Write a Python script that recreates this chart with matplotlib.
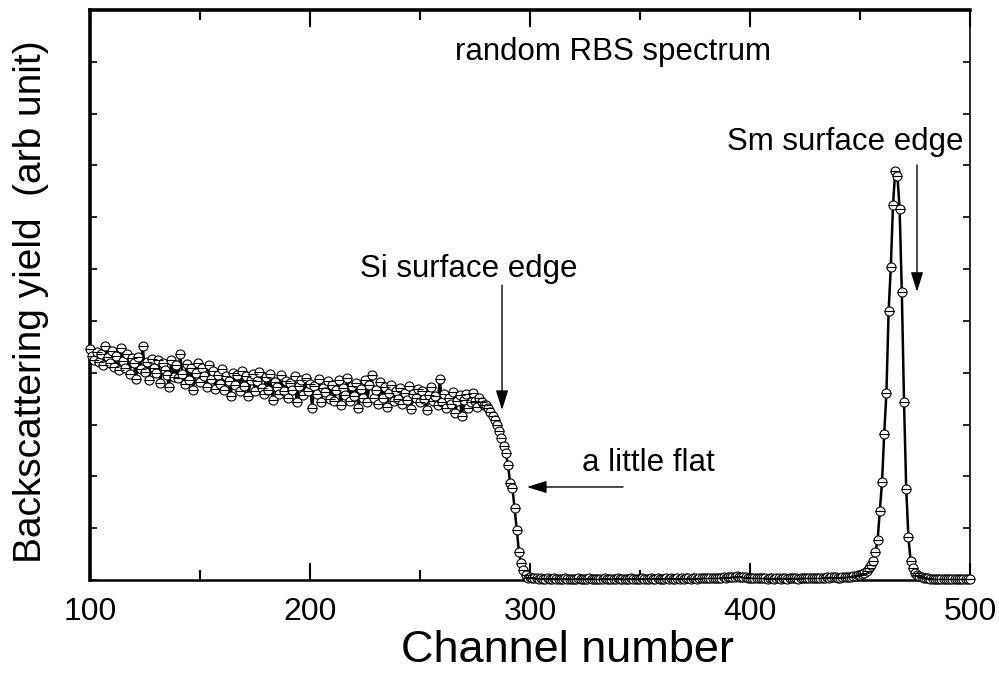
import numpy as np
import matplotlib
matplotlib.use('Agg')
import matplotlib.pyplot as plt
from matplotlib.ticker import MultipleLocator

plt.rcParams['font.family'] = ['Liberation Sans', 'DejaVu Sans']

# Random RBS spectrum, one point per channel (yield in arbitrary units)
channel = np.arange(100, 501)

# ch 100-279: Si substrate plateau (noisy, slowly falling)
plateau = [
    445, 432, 425, 440, 420, 437, 415, 452, 430, 418,
    441, 412, 433, 405, 447, 423, 409, 436, 398, 428,
    419, 388, 430, 408, 452, 402, 421, 385, 427, 410,
    400, 424, 380, 418, 406, 395, 372, 425, 392, 414,
    390, 436, 398, 378, 416, 386, 410, 366, 399, 419,
    382, 409, 393, 372, 415, 388, 404, 368, 396, 378,
    407, 366, 393, 384, 356, 400, 376, 395, 364, 404,
    375, 393, 355, 386, 398, 364, 384, 402, 371, 358,
    392, 366, 397, 348, 382, 372, 358, 396, 365, 384,
    352, 381, 366, 394, 344, 374, 386, 357, 390, 364,
    378, 332, 374, 358, 387, 343, 370, 362, 384, 350,
    376, 346, 367, 385, 337, 371, 357, 390, 346, 374,
    356, 380, 332, 368, 351, 386, 344, 376, 395, 352,
    366, 340, 382, 352, 372, 333, 361, 376, 345, 364,
    350, 371, 340, 361, 347, 375, 330, 358, 352, 369,
    343, 364, 349, 328, 357, 372, 345, 356, 337, 388,
    344, 358, 332, 352, 340, 363, 322, 345, 357, 316,
    348, 358, 332, 343, 360, 346, 333, 352, 343, 338,
]

# ch 280-299: Si surface edge
si_edge = [338, 332, 324, 317, 309, 299, 288, 274, 259, 245,
           222, 187, 178, 139, 97, 54, 33, 19, 10, 4]

# ch 300-439: background between the edges
background = [
    5, 4, 3, 3, 2, 3, 2, 2, 3, 2,
    2, 3, 2, 2, 1, 2, 3, 2, 2, 1,
    2, 2, 3, 2, 1, 2, 2, 3, 2, 2,
    1, 2, 2, 2, 3, 2, 1, 2, 2, 2,
    3, 2, 2, 1, 2, 2, 3, 2, 2, 2,
    2, 3, 2, 2, 2, 3, 2, 2, 3, 2,
    2, 2, 3, 2, 3, 2, 2, 3, 2, 3,
    2, 3, 3, 2, 3, 3, 2, 3, 3, 3,
    3, 3, 4, 3, 4, 4, 3, 4, 5, 4,
    5, 6, 5, 6, 7, 6, 5, 6, 5, 4,
    4, 3, 4, 3, 3, 4, 3, 3, 2, 3,
    3, 2, 3, 3, 2, 3, 3, 2, 3, 3,
    3, 3, 2, 3, 3, 4, 3, 3, 4, 3,
    3, 4, 4, 3, 4, 5, 4, 5, 5, 6,
]

# ch 440-475: Sm peak
sm_peak = [4, 4, 5, 5, 5, 6, 6, 7, 8, 9, 10, 12, 14, 17, 23, 29,
           37, 54, 77, 133, 189, 282, 361, 519, 604, 724,
           789, 780, 716, 556, 344, 176, 83, 37, 23, 14]

# ch 476-500: tail
tail = [10, 7, 5, 4, 3, 3, 2, 2, 2, 2, 2, 1, 2, 1, 1, 2, 1, 1, 1, 1, 1, 1, 1, 1, 1]

counts = np.array(plateau + si_edge + background + sm_peak + tail)

fig = plt.figure(figsize=(9.99, 6.83), dpi=100)
ax = fig.add_axes([0.090, 0.1508, 0.881, 0.8346])

# connecting line, then open circles with a bar through them
ax.plot(channel, counts, color='black', lw=1.8, zorder=2)
ax.plot(channel, counts, 'o', mfc='white', mec='black', ms=6.5, mew=0.8,
        zorder=3, clip_on=False)
ax.plot(channel, counts, '_', color='black', ms=6.5, mew=0.8,
        zorder=4, clip_on=False)

ax.set_xlim(100, 500)
ax.set_ylim(0, 1100)
ax.xaxis.set_major_locator(MultipleLocator(100))
ax.xaxis.set_minor_locator(MultipleLocator(50))
ax.yaxis.set_major_locator(MultipleLocator(100))
ax.tick_params(axis='x', which='major', direction='in', length=12, width=1.5,
               labelsize=23, pad=12, top=True)
ax.tick_params(axis='x', which='minor', direction='in', length=7, width=1.5, top=True)
ax.tick_params(axis='y', which='major', direction='in', length=5, width=1.2,
               right=True, labelleft=False)

ax.spines['left'].set_linewidth(2.6)
ax.spines['top'].set_linewidth(2.6)
ax.spines['bottom'].set_linewidth(1.8)
ax.spines['right'].set_linewidth(1.2)

# axis labels
fig.text(0.5676, 0.048, 'Channel number', fontsize=32.5, ha='center', va='center')
fig.text(0.031, 0.558, 'Backscattering yield  (arb unit)', fontsize=28,
         rotation=90, ha='center', va='center')

# annotations
ax.text(337.7, 1019, 'random RBS spectrum', fontsize=22.5, ha='center', va='center')
ax.text(272.3, 600, 'Si surface edge', fontsize=22.5, ha='center', va='center')
ax.text(353.6, 226, 'a little flat', fontsize=22.5, ha='center', va='center')
ax.text(443.2, 845, 'Sm surface edge', fontsize=22.5, ha='center', va='center')

arrow = dict(arrowstyle='-|>,head_length=0.8,head_width=0.25', mutation_scale=15,
             color='black', lw=1.0, shrinkA=0, shrinkB=0)
ax.annotate('', xy=(287.3, 328), xytext=(287.3, 569), arrowprops=arrow)
ax.annotate('', xy=(298.6, 179.5), xytext=(342.3, 179.5), arrowprops=arrow)
ax.annotate('', xy=(475.9, 556), xytext=(475.9, 801), arrowprops=arrow)

plt.savefig('out.png', dpi=100)
